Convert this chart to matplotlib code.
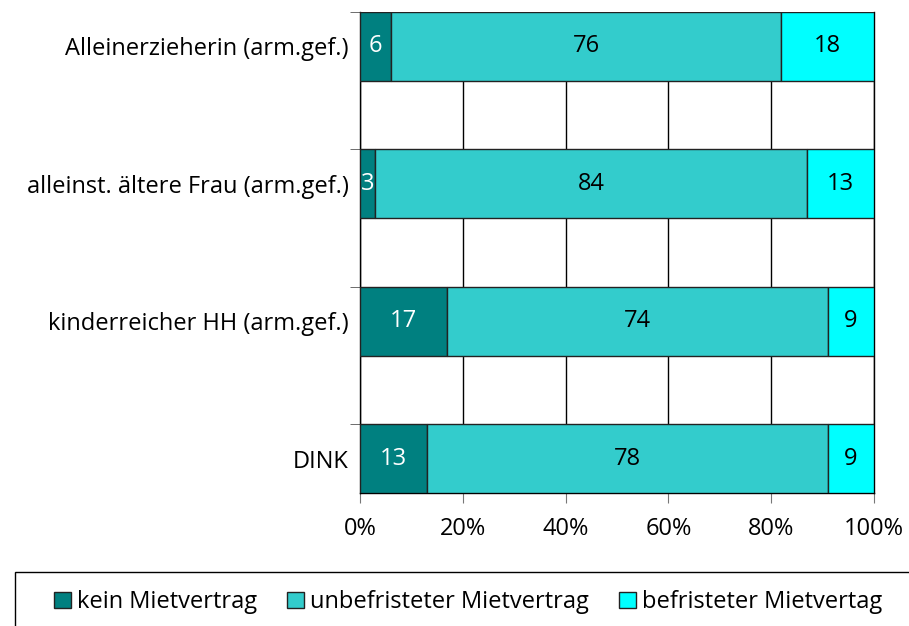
import numpy as np
import matplotlib
import matplotlib.pyplot as plt
from matplotlib.patches import Rectangle
matplotlib.use('Agg')

# Daten
categories = ["Alleinerzieherin (arm.gef.)", "alleinst. ältere Frau (arm.gef.)",
              "kinderreicher HH (arm.gef.)", "DINK"]
series_names = ["kein Mietvertrag", "unbefristeter Mietvertrag", "befristeter Mietvertag"]
kein = [6, 3, 17, 13]
unbefristet = [76, 84, 74, 78]
befristet = [18, 13, 9, 9]
xticks = [0, 20, 40, 60, 80, 100]

colors = ["#008080", "#33CCCC", "#00FFFF"]
text_colors = ["white", "black", "black"]

plt.rcParams['font.family'] = ['Open Sans', 'DejaVu Sans']
fs = 17

fig = plt.figure(figsize=(9.09, 6.26), dpi=100)
ax = fig.add_axes([0.396, 0.2125, 0.5655, 0.7684])

y = np.arange(len(categories))
h = 0.5
left = np.zeros(len(categories))
for vals, name, col, tc in zip([kein, unbefristet, befristet], series_names, colors, text_colors):
    vals = np.array(vals, dtype=float)
    ax.barh(y, vals, height=h, left=left, color=col, edgecolor="#222222",
            linewidth=1.0, label=name, zorder=3)
    for yi, l, v in zip(y, left, vals):
        ax.text(l + v / 2, yi, f"{int(v)}", ha="center", va="center",
                color=tc, fontsize=fs, zorder=4)
    left = left + vals

ax.set_xlim(0, 100)
ax.set_ylim(len(categories) - 1 + h / 2, -h / 2)
ax.set_xticks(xticks)
ax.set_xticklabels([f"{t}%" for t in xticks], fontsize=fs)
ax.set_yticks(y)
ax.set_yticklabels(categories, fontsize=fs)
ax.tick_params(axis="y", length=0, pad=8)
ax.tick_params(axis="x", length=7, color="#777777", pad=10)
ax.xaxis.grid(True, color="black", linewidth=1.0, zorder=0)

# kleine Striche links an den Balkenoberkanten
ax.set_yticks(y - h / 2, minor=True)
ax.tick_params(axis="y", which="minor", length=7, color="#555555")

for s in ax.spines.values():
    s.set_color("black")
    s.set_linewidth(1.0)
ax.spines["top"].set_visible(False)

# Legende
rect = Rectangle((15 / 909, -0.1), 1.1, 0.0863 + 0.1, transform=fig.transFigure,
                 facecolor="none", edgecolor="black", linewidth=1.0, clip_on=False)
fig.add_artist(rect)
fig.legend(loc="center", bbox_to_anchor=(0.515, 0.038), ncol=3, frameon=False,
           fontsize=17, handlelength=0.7, handleheight=0.7, handletextpad=0.25,
           columnspacing=1.3, borderpad=0)

fig.savefig("out.png", dpi=100)
